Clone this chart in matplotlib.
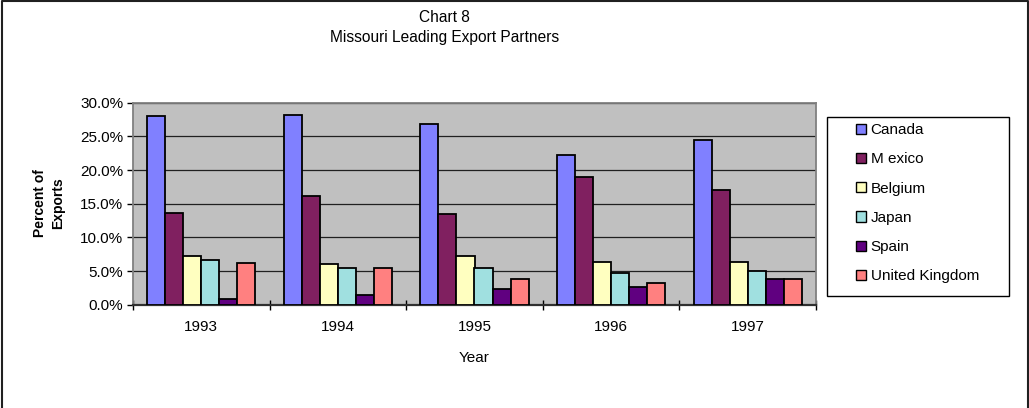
import matplotlib
matplotlib.use("Agg")
import matplotlib.pyplot as plt
import numpy as np
from matplotlib.patches import Rectangle
from matplotlib.lines import Line2D
from matplotlib.ticker import FuncFormatter, FixedLocator

plt.rcParams['font.family'] = ['Liberation Sans', 'DejaVu Sans']

years = ["1993", "1994", "1995", "1996", "1997"]
countries = ["Canada", "M exico", "Belgium", "Japan", "Spain", "United Kingdom"]
canada = [28.0, 28.1, 26.9, 22.2, 24.5]
mexico = [13.6, 16.2, 13.5, 18.9, 17.1]
belgium = [7.3, 6.1, 7.3, 6.4, 6.4]
japan = [6.7, 5.5, 5.5, 4.7, 5.0]
spain = [0.8, 1.5, 2.3, 2.6, 3.8]
uk = [6.2, 5.5, 3.8, 3.2, 3.8]
series = [canada, mexico, belgium, japan, spain, uk]
colors = ["#8080FF", "#802060", "#FFFFC0", "#A0E0E0", "#600080", "#FF8080"]

W, H = 1029, 408
fig = plt.figure(figsize=(W / 100, H / 100), dpi=100)
ax = fig.add_axes([133 / W, 1 - 304.7 / H, (816 - 133) / W, (304.7 - 102.7) / H])
ax.set_facecolor("#C0C0C0")

x = np.arange(len(years))
w = 0.132
for i, (vals, c, lab) in enumerate(zip(series, colors, countries)):
    ax.bar(x + (i - 2.5) * w, vals, width=w, color=c, edgecolor="black",
           linewidth=1.3, label=lab, zorder=3)

ax.set_ylim(0, 30)
ax.set_xlim(-0.5, len(years) - 0.5)
ax.set_yticks(np.arange(0, 31, 5))
ax.yaxis.set_major_formatter(FuncFormatter(lambda v, p: f"{v:.1f}%"))
ax.grid(axis="y", color="#202020", linewidth=0.9, zorder=1)
ax.set_xticks(x)
ax.set_xticklabels(years)
ax.tick_params(axis="x", length=0, pad=11, labelsize=11)
ax.xaxis.set_minor_locator(FixedLocator(np.arange(-0.5, len(years), 1.0)))
ax.tick_params(axis="x", which="minor", length=7, width=1, direction="inout", color="black")
ax.tick_params(axis="y", length=4, width=1, direction="out", labelsize=11, pad=3)

for s in ["top", "right", "left"]:
    ax.spines[s].set_color("#808080")
    ax.spines[s].set_linewidth(1.3)
ax.spines["bottom"].set_color("#303030")
ax.spines["bottom"].set_linewidth(1.6)

ax.set_xlabel("Year", fontsize=11, labelpad=12)
fig.text(49 / W, 1 - 203 / H, "Percent of\nExports", rotation=90, ha="center", va="center",
         fontsize=10, fontweight="bold", linespacing=1.45,
         family=['Liberation Sans Narrow', 'Liberation Sans', 'DejaVu Sans'])

fig.text(444.5 / W, 1 - 17.5 / H, "Chart 8", ha="center", va="center", fontsize=11.2)
fig.text(444.5 / W, 1 - 37.5 / H, "Missouri Leading Export Partners", ha="center", va="center", fontsize=11.2)

leg = fig.legend(loc="upper left", bbox_to_anchor=(856 / W, 1 - 123 / H), fontsize=11,
                 frameon=False, handlelength=0.65, handleheight=0.65, handletextpad=0.3,
                 labelspacing=1.0, borderpad=0, borderaxespad=0)
for h in leg.legend_handles:
    h.set_linewidth(1.0)

fig.patches.append(Rectangle((827 / W, 1 - 296 / H), (1009 - 827) / W, (296 - 117) / H,
                             transform=fig.transFigure, fill=False, edgecolor="black",
                             linewidth=1.0))
# outer chart border (left, top, right)
fig.lines.append(Line2D([1.5 / W, 1.5 / W, 1 - 1.5 / W, 1 - 1.5 / W], [0, 1 - 1 / H, 1 - 1 / H, 0],
                        transform=fig.transFigure, color="#202020", linewidth=1.5))

fig.savefig("out.png", dpi=100)
